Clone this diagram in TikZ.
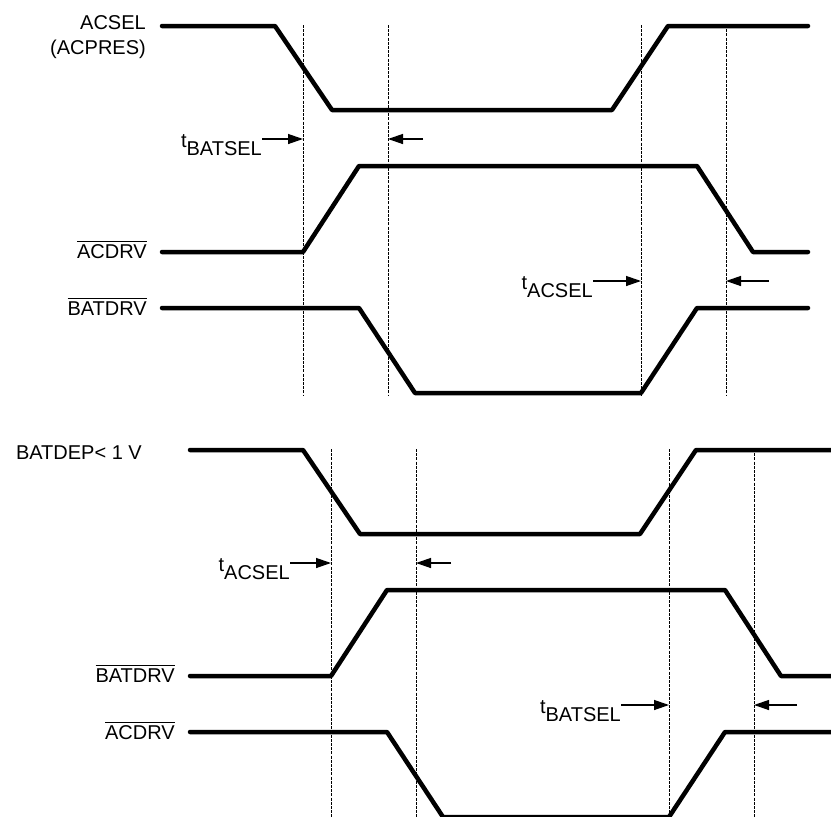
\documentclass[tikz,border=0pt]{standalone}
\usepackage{amsmath}
\usepackage{fontspec}
\setmainfont{Liberation Sans}
\usetikzlibrary{arrows.meta}
\usetikzlibrary{positioning}

\begin{document}
\begin{tikzpicture}[line cap=round,line join=round,x=1pt,y=-1pt,
		>={Triangle[length=15pt,width=10pt]},
		wave/.style={line width=4.5pt},
		guide/.style={line width=1pt,line cap=butt,dash pattern=on 3pt off 1.2pt},
		tarrow/.style={->,line width=1.3pt,line cap=butt},
		sig/.style={inner sep=0pt,font=\fontsize{20}{25}\selectfont},
		tlbl/.style={sig,anchor=base east}]
		\useasboundingbox (0,0) rectangle (831,817);
		% ACSEL (ACPRES)
		\begin{scope}
		\node[sig,anchor=north east,align=right] (acsel) at (146,15) {ACSEL\\(ACPRES)};
		\node[sig,anchor=base east] (acdrvA) at (147,258) {$\overline{\mbox{ACDRV}}$};
		\node[sig,anchor=base east] (batdrvA) at (147,315) {$\overline{\mbox{BATDRV}}$};
		\draw[wave] (162,26) -- (275,26) -- (332,110) -- (612,110) -- (668,26) -- (808,26); %ACSEL
		\draw[wave] (162,252) -- (303,252) -- (359,166) -- (697,166) -- (753,252) -- (808,252); %ACDRV
		\draw[wave] (162,308) -- (359,308) -- (415,393) -- (641,393) -- (697,308) -- (808,308); %BATDRV
		\draw[guide] (303,25) -- (303,395);
		\draw[guide] (388,25) -- (388,395);
		\draw[guide] (641,25) -- (641,395);
		\draw[guide] (726,25) -- (726,395);
		\coordinate (inA1) at (303,139);
		\coordinate (outA1) at (388,139);
		\coordinate (tailA1) at (423,139);
		\coordinate (inA2) at (641,281);
		\coordinate (outA2) at (726,281);
		\coordinate (tailA2) at (769,281);
		\node[tlbl] (tbatselA) at (262,147) {t\raisebox{-8pt}{BATSEL}};
		\node[tlbl] (tacselA) at (593,289) {t\raisebox{-8pt}{ACSEL}};
		\draw[tarrow] ([yshift=8pt]tbatselA.base east) -- (inA1);
		\draw[tarrow] (tailA1) -- (outA1);
		\draw[tarrow] ([yshift=8pt]tacselA.base east) -- (inA2);
		\draw[tarrow] (tailA2) -- (outA2);
		\end{scope}
		% BATDEP < 1 V
		\begin{scope}[shift={(28,424)}]
		\node[sig,anchor=base east] (batdep) at (114,35) {BATDEP< 1 V};
		\node[sig,anchor=base east] (batdrvB) at (147,258) {$\overline{\mbox{BATDRV}}$};
		\node[sig,anchor=base east] (acdrvB) at (147,315) {$\overline{\mbox{ACDRV}}$};
		\draw[wave] (162,26) -- (275,26) -- (332,110) -- (612,110) -- (668,26) -- (808,26); %BATDEP
		\draw[wave] (162,252) -- (303,252) -- (359,166) -- (697,166) -- (753,252) -- (808,252); %BATDRV
		\draw[wave] (162,308) -- (359,308) -- (415,393) -- (641,393) -- (697,308) -- (808,308); %ACDRV
		\draw[guide] (303,25) -- (303,400);
		\draw[guide] (388,25) -- (388,400);
		\draw[guide] (641,25) -- (641,400);
		\draw[guide] (726,25) -- (726,400);
		\coordinate (inB1) at (303,139);
		\coordinate (outB1) at (388,139);
		\coordinate (tailB1) at (423,139);
		\coordinate (inB2) at (641,281);
		\coordinate (outB2) at (726,281);
		\coordinate (tailB2) at (769,281);
		\node[tlbl] (tacselB) at (262,147) {t\raisebox{-8pt}{ACSEL}};
		\node[tlbl] (tbatselB) at (593,289) {t\raisebox{-8pt}{BATSEL}};
		\draw[tarrow] ([yshift=8pt]tacselB.base east) -- (inB1);
		\draw[tarrow] (tailB1) -- (outB1);
		\draw[tarrow] ([yshift=8pt]tbatselB.base east) -- (inB2);
		\draw[tarrow] (tailB2) -- (outB2);
		\end{scope}
\end{tikzpicture}
\end{document}
